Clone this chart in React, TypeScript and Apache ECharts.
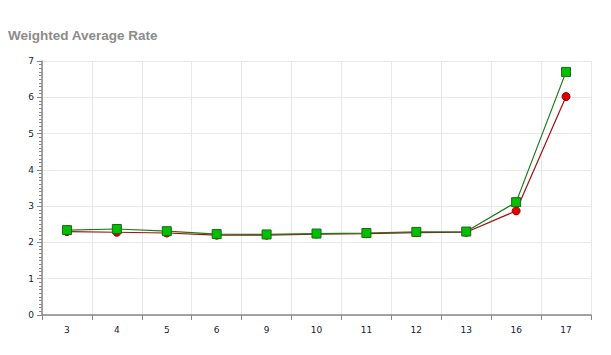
import React, { useEffect, useRef } from "react";
import * as echarts from "echarts";

const categories = ["3", "4", "5", "6", "9", "10", "11", "12", "13", "16", "17"];
const redSeries = [2.30, 2.28, 2.26, 2.20, 2.20, 2.23, 2.24, 2.27, 2.28, 2.87, 6.02];
const greenSeries = [2.34, 2.37, 2.31, 2.23, 2.22, 2.245, 2.26, 2.29, 2.30, 3.11, 6.70];
const yTicks = [0, 1, 2, 3, 4, 5, 6, 7];

export default function App() {
  const ref = useRef<HTMLDivElement>(null);
  useEffect(() => {
    if (!ref.current) return;
    const chart = echarts.init(ref.current, undefined, { renderer: "svg" });
    const labelStyle = { fontFamily: "DejaVu Sans", fontSize: 9, color: "#1a1a33" };
    chart.setOption({
      animation: false,
      title: {
        text: "Weighted Average Rate",
        left: 0,
        top: 20,
        padding: 0,
        textStyle: { fontFamily: "Liberation Sans", fontSize: 13.5, fontWeight: "bold", color: "#8c8c8c" },
      },
      grid: { left: 34, right: 20, top: 53, bottom: 32 },
      xAxis: [
        {
          type: "category",
          data: categories,
          boundaryGap: true,
          axisLine: { lineStyle: { color: "#888", width: 1.5 } },
          axisTick: { alignWithLabel: true, length: 5, lineStyle: { color: "#888" } },
          axisLabel: { ...labelStyle, margin: 10 },
          splitLine: { show: false },
        },
        {
          type: "category",
          data: categories,
          position: "bottom",
          boundaryGap: true,
          axisLine: { show: false },
          axisTick: { show: true, length: 5, lineStyle: { color: "#888" } },
          axisLabel: { show: false },
          splitLine: { show: true, lineStyle: { color: "#e8e8e8" } },
        },
      ],
      yAxis: {
        type: "value",
        min: yTicks[0],
        max: yTicks[yTicks.length - 1],
        interval: 1,
        axisLine: { show: true, lineStyle: { color: "#888", width: 1.5 } },
        axisTick: { show: true, length: 5, lineStyle: { color: "#888" } },
        minorTick: { show: true, splitNumber: 10, length: 3, lineStyle: { color: "#888", width: 1 } },
        axisLabel: { ...labelStyle, margin: 8 },
        splitLine: { lineStyle: { color: "#e8e8e8" } },
      },
      series: [
        {
          type: "line",
          data: redSeries,
          symbol: "circle",
          symbolSize: 8,
          lineStyle: { color: "#a01010", width: 1.2 },
          itemStyle: { color: "#e00000", borderColor: "#990000", borderWidth: 1 },
          z: 2,
        },
        {
          type: "line",
          data: greenSeries,
          symbol: "rect",
          symbolSize: 9,
          lineStyle: { color: "#1a7a1a", width: 1.2 },
          itemStyle: { color: "#00c000", borderColor: "#1a6a1a", borderWidth: 1 },
          z: 3,
        },
      ],
    });
    return () => chart.dispose();
  }, []);
  return <div ref={ref} style={{ width: 603, height: 339 }} />;
}
